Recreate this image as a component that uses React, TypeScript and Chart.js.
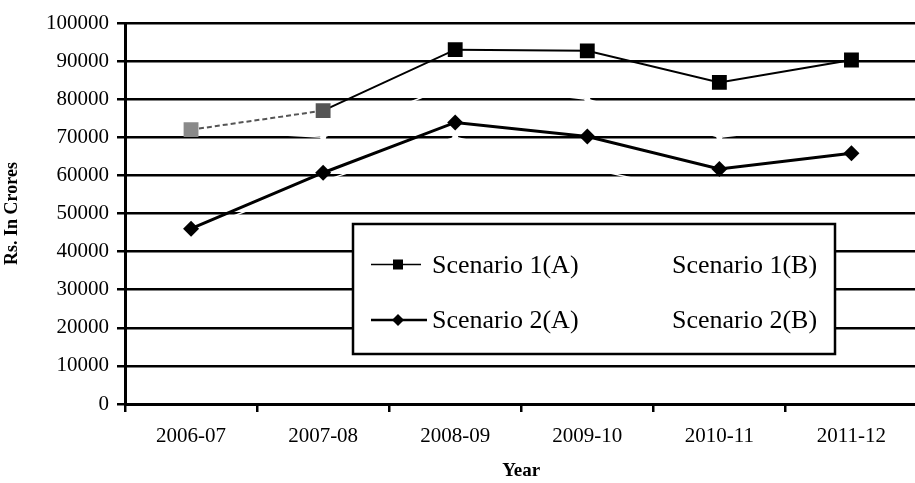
import React, { useEffect, useRef } from "react";
import { Chart, registerables } from "chart.js";

Chart.register(...registerables);

// ---- data ----
const categories = ["2006-07", "2007-08", "2008-09", "2009-10", "2010-11", "2011-12"];
const scenario1A = [72000, 77000, 93000, 92700, 84400, 90300];
const scenario1B = [72000, 70000, 84000, 80000, 70000, 74000];
const scenario2A = [46000, 60700, 73900, 70200, 61700, 65800];
const scenario2B = [45000, 58500, 70000, 62000, 54000, 57000];
const seriesLabels = ["Scenario 1(A)", "Scenario 1(B)", "Scenario 2(A)", "Scenario 2(B)"];
const yTickValues = [0, 10000, 20000, 30000, 40000, 50000, 60000, 70000, 80000, 90000, 100000];
const yTitle = "Rs. In Crores";
const xTitle = "Year";

const SERIF = "'Liberation Serif', 'Times New Roman', serif";

const boxLegend = {
  id: "boxLegend",
  afterDatasetsDraw(chart: any) {
    const ctx = chart.ctx as CanvasRenderingContext2D;
    const ds = chart.data.datasets;
    const bx = 353, by = 224, bw = 482, bh = 130;
    ctx.save();
    ctx.fillStyle = "#ffffff";
    ctx.fillRect(bx, by, bw, bh);
    ctx.strokeStyle = "#000000";
    ctx.lineWidth = 2.5;
    ctx.strokeRect(bx, by, bw, bh);

    const cols = [371, 612];
    const textCols = [432, 672];
    const rows = [264.5, 320];
    const baselines = [272.5, 328];
    ds.forEach((d: any, i: number) => {
      const col = i % 2;
      const row = Math.floor(i / 2);
      const x0 = cols[col];
      const y = rows[row];
      ctx.strokeStyle = d.borderColor;
      ctx.lineWidth = row === 0 ? 1.5 : 2.5;
      ctx.beginPath();
      ctx.moveTo(x0, y);
      ctx.lineTo(x0 + (row === 0 ? 50 : 56), y);
      ctx.stroke();
      const cx = x0 + 27;
      ctx.fillStyle = d.pointBackgroundColor instanceof Array ? d.pointBackgroundColor[5] : d.pointBackgroundColor;
      ctx.beginPath();
      if (d.pointStyle === "rect") {
        ctx.rect(cx - 5, y - 5, 10, 10);
      } else {
        ctx.moveTo(cx - 6, y);
        ctx.lineTo(cx, y - 6);
        ctx.lineTo(cx + 6, y);
        ctx.lineTo(cx, y + 6);
        ctx.closePath();
      }
      ctx.fill();
      ctx.fillStyle = "#000000";
      ctx.font = `26px ${SERIF}`;
      ctx.textBaseline = "alphabetic";
      ctx.textAlign = "left";
      ctx.fillText(d.label, textCols[col], baselines[row]);
    });
    ctx.restore();
  },
};

export default function App() {
  const ref = useRef<HTMLCanvasElement | null>(null);

  useEffect(() => {
    if (!ref.current) return;
    const chart = new Chart(ref.current, {
      type: "line",
      data: {
        labels: categories,
        datasets: [
          {
            label: seriesLabels[0],
            data: scenario1A,
            borderColor: "#000000",
            borderWidth: 2,
            pointStyle: "rect",
            pointRadius: 10.5,
            pointBorderWidth: 0,
            pointBackgroundColor: ["#8a8a8a", "#555555", "#000000", "#000000", "#000000", "#000000"],
            pointBorderColor: "#000000",
            segment: {
              borderDash: (c: any) => (c.p0DataIndex === 0 ? [5, 3] : undefined),
              borderColor: (c: any) => (c.p0DataIndex === 0 ? "#555555" : undefined),
            },
            order: 0,
          },
          {
            label: seriesLabels[1],
            data: scenario1B,
            borderColor: "#ffffff",
            borderWidth: 1.5,
            pointStyle: "circle",
            pointRadius: 3,
            pointBorderWidth: 0,
            pointBackgroundColor: "#ffffff",
            order: 3,
          },
          {
            label: seriesLabels[2],
            data: scenario2A,
            borderColor: "#000000",
            borderWidth: 3,
            pointStyle: "rectRot",
            pointRadius: 8,
            pointBorderWidth: 0,
            pointBackgroundColor: "#000000",
            order: 1,
          },
          {
            label: seriesLabels[3],
            data: scenario2B,
            borderColor: "#ffffff",
            borderWidth: 1.5,
            pointStyle: "circle",
            pointRadius: 3,
            pointBorderWidth: 0,
            pointBackgroundColor: "#ffffff",
            order: 2,
          },
        ],
      },
      options: {
        responsive: false,
        animation: false,
        devicePixelRatio: 1,
        layout: { padding: { left: 0, right: 5, top: 23, bottom: 0 } },
        plugins: {
          legend: { display: false },
          tooltip: { enabled: false },
          title: { display: false },
        },
        elements: { line: { tension: 0 } },
        scales: {
          x: {
            type: "category",
            offset: true,
            afterFit: (s: any) => {
              s.height = 79;
            },
            grid: {
              display: true,
              drawOnChartArea: false,
              drawTicks: true,
              tickLength: 8,
              color: "#000000",
              lineWidth: 2.5,
              offset: true,
            },
            border: { display: true, color: "#000000", width: 3 },
            ticks: {
              color: "#000000",
              font: { family: SERIF, size: 21 },
              padding: 12,
              maxRotation: 0,
              autoSkip: false,
            },
            title: {
              display: true,
              text: xTitle,
              color: "#000000",
              font: { family: SERIF, size: 19, weight: "bold" },
              padding: { top: 0, bottom: 1 },
            },
          },
          y: {
            min: 0,
            max: 100000,
            afterFit: (s: any) => {
              s.width = 125;
            },
            afterBuildTicks: (s: any) => {
              s.ticks = yTickValues.map((v) => ({ value: v }));
            },
            grid: {
              display: true,
              drawTicks: true,
              tickLength: 8,
              color: "#000000",
              lineWidth: 2.5,
            },
            border: { display: true, color: "#000000", width: 3 },
            ticks: {
              color: "#000000",
              font: { family: SERIF, size: 21 },
              padding: 8,
              callback: (v: any) => String(v),
            },
            title: {
              display: true,
              text: yTitle,
              color: "#000000",
              font: { family: SERIF, size: 18, weight: "bold" },
              padding: { top: 2, bottom: 0 },
            },
          },
        },
      },
      plugins: [boxLegend],
    });
    return () => chart.destroy();
  }, []);

  return (
    <div
      style={{
        position: "fixed",
        left: 0,
        top: 0,
        width: 915,
        height: 483,
        overflow: "hidden",
        background: "#ffffff",
      }}
    >
      <canvas ref={ref} width={928} height={483} style={{ display: "block" }} />
    </div>
  );
}
